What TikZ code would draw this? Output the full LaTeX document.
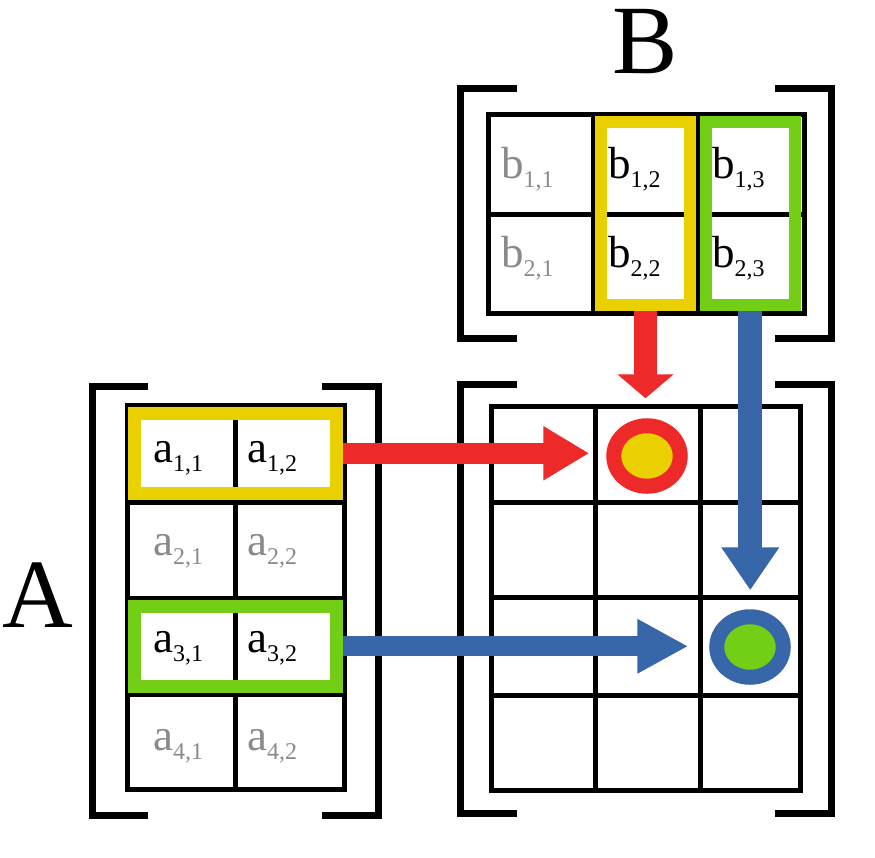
\documentclass[tikz,border=0pt]{standalone}
\usepackage{fontspec}
\setmainfont{Liberation Serif}
\usetikzlibrary{arrows.meta}
\usetikzlibrary{shapes.geometric}
\definecolor{hlyellow}{RGB}{234,208,0}
\definecolor{hlgreen}{RGB}{114,207,22}
\definecolor{arrred}{RGB}{237,41,41}
\definecolor{arrblue}{RGB}{55,103,168}
\definecolor{fadedgray}{RGB}{138,138,138}
\newcommand{\mentry}[2]{#1\raisebox{-9pt}{\fontsize{24}{24}\selectfont #2}}

\begin{document}
\begin{tikzpicture}[x=1pt, y=-1pt,
  gridline/.style = {draw, line width=5pt},
  bracket/.style = {draw, line width=7pt},
  hlframe/.style = {shape=rectangle, draw, inner sep=0},
  result/.style = {shape=ellipse, draw, line width=15pt, inner sep=0,
    minimum width=66.5pt, minimum height=60.5pt},
  elem/.style = {anchor=base west, inner sep=0, font=\fontsize{45}{45}\selectfont},
  faded/.style = {elem, text=fadedgray},
  bigname/.style = {anchor=base west, inner sep=0, font=\fontsize{98}{98}\selectfont},
  redarrow/.style = {draw=arrred},
  bluearrow/.style = {draw=arrblue}]
  \useasboundingbox (0,0) rectangle (875,857);

  % matrix A
  \draw[gridline] (127,405.5) rectangle (344.5,789.5);
  \draw[gridline] (235.5,405.5) -- (235.5,789.5);
  \foreach \y in {502, 598, 694.5}
    \draw[gridline] (127,\y) -- (344.5,\y);
  \draw[bracket] (148,386.5) -| (92.5,815.5) -- (148,815.5);
  \draw[bracket] (322,386.5) -| (378.5,815.5) -- (322,815.5);

  % matrix B
  \draw[gridline] (488.5,114) rectangle (804,313);
  \draw[gridline] (488.5,214) -- (804,214);
  \foreach \x in {593.5, 697}
    \draw[gridline] (\x,114) -- (\x,313);
  \draw[bracket] (517,88.5) -| (460.5,338) -- (517,338);
  \draw[bracket] (775,88.5) -| (831.5,338) -- (775,338);

  % result
  \draw[gridline] (491.5,406.5) rectangle (800.5,790.5);
  \foreach \x in {595.5, 700.5}
    \draw[gridline] (\x,406.5) -- (\x,790.5);
  \foreach \y in {502, 597, 695}
    \draw[gridline] (491.5,\y) -- (800.5,\y);
  \draw[bracket] (517,384.5) -| (460.5,813.5) -- (517,813.5);
  \draw[bracket] (775,384.5) -| (831.5,813.5) -- (775,813.5);

  % highlighted rows and columns
  \node[hlframe, draw=hlyellow, line width=13pt, minimum width=202.5pt,
    minimum height=80.5pt] (arow1) at (235.25,453.25) {};
  \node[hlframe, draw=hlgreen, line width=13pt, minimum width=202.5pt,
    minimum height=80.5pt] (arow3) at (235.25,646.25) {};
  \node[hlframe, draw=hlyellow, line width=12pt, minimum width=89pt,
    minimum height=182.5pt] (bcol2) at (645.5,213.25) {};
  \node[hlframe, draw=hlgreen, line width=12pt, minimum width=89pt,
    minimum height=182.5pt] (bcol3) at (750.25,213.25) {};
  \draw[gridline] (235.5,419.5) -- (235.5,487);
  \draw[gridline] (235.5,612.5) -- (235.5,680);
  \draw[gridline] (607,214) -- (684,214);
  \draw[gridline] (711.5,214) -- (789,214);

  % entries
  \foreach \r/\y/\s in {1/462/elem, 2/555/faded, 3/652/elem, 4/750/faded}
    \foreach \c/\x in {1/153, 2/247}
      \node[\s] (a\r\c) at (\x,\y) {\mentry{a}{\r,\c}};
  \foreach \c/\x/\s in {1/501/faded, 2/608/elem, 3/712/elem}
    \foreach \r/\y in {1/178, 2/267}
      \node[\s] (b\r\c) at (\x,\y) {\mentry{b}{\r,\c}};

  \node[bigname] (nameA) at (2,627) {A};
  \node[bigname] (nameB) at (612,73) {B};

  % products
  \node[result, draw=arrred, fill=hlyellow] (cdot1) at (647,456) {};
  \node[result, draw=arrblue, fill=hlgreen] (cdot2) at (750,647) {};

  \draw[redarrow, line width=21pt, -{Triangle[length=46pt,width=51pt]},
    shorten >=17pt] (arow1.east) -- (arow1.east -| cdot1.west);
  \draw[redarrow, line width=23pt, -{Triangle[length=24pt,width=55pt]},
    shorten >=20pt] (bcol2.south) -- (bcol2.south |- cdot1.north);
  \draw[bluearrow, line width=24pt, -{Triangle[length=43pt,width=55pt]},
    shorten >=19pt] (bcol3.south) -- (bcol3.south |- cdot2.north);
  \draw[bluearrow, line width=20pt, -{Triangle[length=51pt,width=51pt]},
    shorten >=21pt] (arow3.east) -- (arow3.east -| cdot2.west);
\end{tikzpicture}
\end{document}
